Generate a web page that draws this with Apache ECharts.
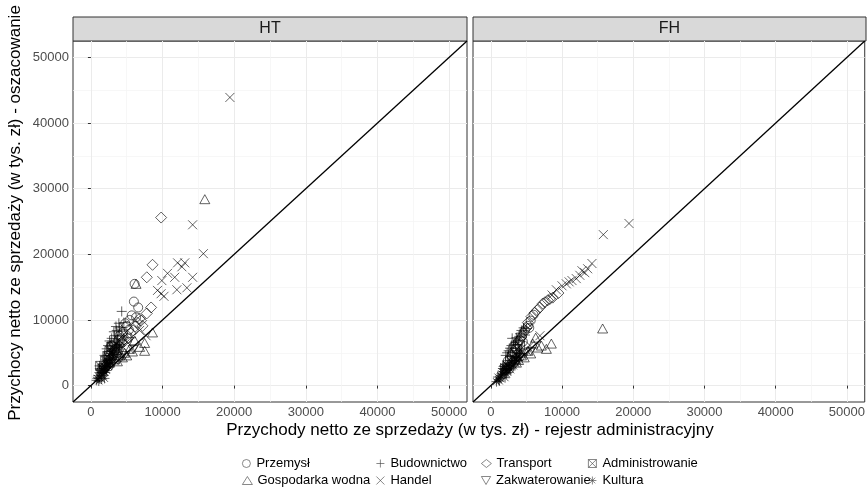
<!DOCTYPE html>
<html lang="pl">
<head>
<meta charset="UTF-8">
<title>HT / FH</title>
<script src="https://cdn.jsdelivr.net/npm/echarts@6/dist/echarts.min.js"></script>
<style>
  html, body { margin: 0; padding: 0; background: #fff; }
  #main { width: 868px; height: 491px; }
</style>
</head>
<body>
<div id="main"></div>
<script>
var panels = ['HT', 'FH'];
var categories = ['Przemysł', 'Gospodarka wodna', 'Budownictwo', 'Handel', 'Transport', 'Zakwaterowanie', 'Administrowanie', 'Kultura'];
var majorTicks = [0, 10000, 20000, 30000, 40000, 50000];
var minorTicks = [5000, 15000, 25000, 35000, 45000];
var axisRange = [-2500, 52500];
var xTitle = 'Przychody netto ze sprzedaży (w tys. zł) - rejestr administracyjny';
var yTitle = 'Przychocy netto ze sprzedaży (w tys. zł) - oszacowanie';

// HT panel, [rejestr, oszacowanie]
var htPrzemysl = [[6100,15500],[6000,12800],[6600,11900],[5700,10700],[5000,9100],[4000,7600],[3800,6900],[2900,6100],[2400,4600],[1800,3000],[3300,5400],[4500,8200],
  [5400,10000],[4800,9500],[4200,7200],[5300,8500],[3600,5200],[2700,4000],[6300,10400]];
var htGospodarka = [[15900,28400],[6300,15500],[8600,8100],[7500,6500],[7500,5300],[6100,6900],[5400,5600],[4700,5000],[4000,4600],[2600,3500],[3300,4000],
  [5800,5200],[6800,5900],[4400,4300],[3700,3700],[5000,4600]];
var htBudownictwo = [[4300,11300],[4000,8800],[4300,8500],[3600,8400],[3300,7600],[2900,7200],[2400,6100],[1900,4600],[1200,3000],[3000,5600],[5600,7300],
  [3900,9500],[3500,9000],[2600,6800],[2800,6500],[3700,7100],[3200,8200],[4600,9600],[2200,5600]];
var htHandel = [[19400,43900],[14200,24500],[15700,20100],[12100,18700],[13100,18700],[12700,18100],[10700,17100],[11700,16500],[9900,16000],[14200,16500],[9300,14500],[10200,13600],[12000,14600],[13400,14900],[9800,14000],[6800,8400],[7700,7600],
  [5200,6500],[4400,5900]];
var htTransport = [[9800,25600],[8600,18400],[7800,16500],[8400,11900],[7800,11000],[6800,10200],[7200,9100],[6500,9600],[5900,8400],[5200,7200],[4000,6100],[3300,4600],
  [5500,8000],[4600,7000],[6200,9000],[4300,6600],[7000,9900]];
var htZakwaterowanie = [[3800,3800],[2900,3000],[2100,2300],[4700,4600],[1300,2000],[5900,5500],[3300,4500],[2500,3300],[4200,4200],[1700,2400]];
var htAdministrowanie = [[2600,5300],[3300,6100],[2000,3800],[4000,6900],[1300,3000],[2300,4500],[3700,5400],[1600,2600],[2900,5900],[4400,7600]];
var htKultura = [[800,800],[1200,1200],[1500,2000],[1800,2600],[2100,3400],[2400,3800],[2600,4600],[2900,5300],[1700,1500],[2200,2300],[2800,3500],[3200,4300],[3500,5000],[1300,2000],[1900,1100],[3800,5800],[2500,2900],[1000,1500],[2000,2800],[3000,4000],[1600,2500],[2300,3100],
  [1100,700],[1400,1800],[1700,2200],[1900,2900],[2200,3600],[2500,4100],[2700,4900],[3100,4800],[3300,5600],[2000,2000],[2600,3200],[1500,1000],[900,1100],[3600,6300],[4000,6000],[2100,3900]];

// FH panel
var fhPrzemysl = [[4800,8400],[5200,9100],[5600,9900],[4100,6900],[3500,5600],[2900,4600],[2400,3800],[6000,10800],[3300,6000],
  [4400,7600],[3800,6400],[5400,8800],[3100,5100],[4500,6700]];
var fhGospodarka = [[15700,8700],[8500,6400],[7800,5600],[6600,5800],[5900,6400],[5200,5300],[4300,4600],[3600,3500],[6300,7300],
  [4700,4300],[5600,4900],[7100,6100],[3900,3900]];
var fhBudownictwo = [[3400,6600],[3600,7300],[4100,7900],[2900,6100],[4300,8400],[4600,8800],[2500,5300],[2100,4600],[5000,8700],[3000,7200],
  [3800,6900],[2700,5700],[3200,6300],[4000,7500],[2300,5000],[4800,7700]];
var fhHandel = [[19400,24700],[15800,23000],[14200,18600],[13600,17800],[13200,17200],[12500,16800],[12000,16300],[11400,16000],[10600,15500],[10000,15200],[9200,14600],[6900,7600],[5500,6100],
  [4200,5500],[8600,13800],[11000,15800],[12800,17500]];
var fhTransport = [[8700,13400],[8000,13000],[7300,12500],[6900,11900],[6200,11100],[5700,10500],[5200,9600],[4600,8100],[9500,14100],
  [4300,7400],[5000,8800],[3900,6800],[6500,11500],[7600,12700],[8300,13200]];
var fhZakwaterowanie = [[2900,2900],[3800,3800],[2100,2000],[4800,5000],[5600,5200],[3400,3200],[4400,4300],[2500,2500]];
var fhAdministrowanie = [[2700,3800],[3400,5000],[2000,2600],[4100,6100],[3000,4400],[3700,5600],[2300,3100]];
var fhKultura = [[800,600],[1300,1100],[1700,1700],[2100,2300],[2500,2900],[2900,3500],[3400,4100],[2000,1200],[2400,2000],[2800,2400],[1400,1500],[3200,3000],[3800,3800],[1800,2900],[1100,900],[2200,2700],[3000,4400],[1600,2100],
  [1000,1300],[1500,1800],[1900,2500],[2300,3100],[2600,3400],[3100,3800],[3600,4600],[4000,5300],[2700,2600],[1200,700],[3500,3400],[2200,1800],[1700,2600],[4200,4800],[3900,4300]];

var panelData = [
  [htPrzemysl, htGospodarka, htBudownictwo, htHandel, htTransport, htZakwaterowanie, htAdministrowanie, htKultura],
  [fhPrzemysl, fhGospodarka, fhBudownictwo, fhHandel, fhTransport, fhZakwaterowanie, fhAdministrowanie, fhKultura]
];

// ggplot shapes 1..8
var symbols = [
  'circle',
  'triangle',
  'path://M5,0L5,10M0,5L10,5',
  'path://M0,0L10,10M10,0L0,10',
  'diamond',
  'path://M0,0L10,0L5,8.66Z',
  'path://M0,0L10,0L10,10L0,10ZM0,0L10,10M10,0L0,10',
  'path://M5,0L5,10M0,5L10,5M1.5,1.5L8.5,8.5M8.5,1.5L1.5,8.5'
];
var sizes = [9, [10, 9], 10, 9, 11, [10, 9], 9, 10];

var font = 'Liberation Sans, Arial, sans-serif';
var grids = [
  {left: 73, top: 41, width: 394, height: 361},
  {left: 473, top: 41, width: 393, height: 361}
];

function plain(v) { return String(v); }

var xAxes = [], yAxes = [], series = [], graphics = [];

grids.forEach(function (g, p) {
  g.show = true;
  g.borderColor = '#333';
  g.borderWidth = 1;
  g.backgroundColor = '#fff';

  // major axes (labels, ticks, major grid)
  xAxes.push({
    type: 'value', gridIndex: p, min: axisRange[0], max: axisRange[1],
    axisLine: {show: false},
    axisTick: {show: true, length: 3, lineStyle: {color: '#333'}, customValues: majorTicks},
    axisLabel: {customValues: majorTicks, formatter: plain, color: '#4d4d4d', fontSize: 13, margin: 4, fontFamily: font},
    splitLine: {show: true, lineStyle: {color: '#ebebeb', width: 1}}
  });
  yAxes.push({
    type: 'value', gridIndex: p, min: axisRange[0], max: axisRange[1],
    axisLine: {show: false},
    axisTick: {show: p === 0, length: 3, lineStyle: {color: '#333'}, customValues: majorTicks},
    axisLabel: {show: p === 0, customValues: majorTicks, formatter: plain, color: '#4d4d4d', fontSize: 13, margin: 4, fontFamily: font},
    splitLine: {show: true, lineStyle: {color: '#ebebeb', width: 1}}
  });
  // minor grid
  xAxes.push({
    type: 'value', gridIndex: p, min: axisRange[0], max: axisRange[1],
    axisLine: {show: false}, axisLabel: {show: false},
    axisTick: {show: false, customValues: minorTicks},
    splitLine: {show: true, lineStyle: {color: '#f3f3f3', width: 0.7}}
  });
  yAxes.push({
    type: 'value', gridIndex: p, min: axisRange[0], max: axisRange[1],
    axisLine: {show: false}, axisLabel: {show: false},
    axisTick: {show: false, customValues: minorTicks},
    splitLine: {show: true, lineStyle: {color: '#f3f3f3', width: 0.7}}
  });

  panelData[p].forEach(function (data, c) {
    series.push({
      type: 'scatter', name: categories[c],
      xAxisIndex: p * 2, yAxisIndex: p * 2,
      symbol: symbols[c], symbolSize: sizes[c], symbolKeepAspect: true,
      itemStyle: {color: 'transparent', borderColor: 'rgba(0,0,0,0.85)', borderWidth: 0.9},
      data: data
    });
  });

  series.push({
    type: 'line', name: 'y=x', xAxisIndex: p * 2, yAxisIndex: p * 2,
    showSymbol: false, silent: true, z: 5,
    lineStyle: {color: '#000', width: 1.3},
    data: [[axisRange[0], axisRange[0]], [axisRange[1], axisRange[1]]]
  });

  // facet strip
  graphics.push({
    type: 'rect', shape: {x: g.left, y: 17, width: g.width, height: 24},
    style: {fill: '#d9d9d9', stroke: '#333', lineWidth: 1}
  });
  graphics.push({
    type: 'text', x: g.left + g.width / 2, y: 29,
    style: {text: panels[p], fill: '#1a1a1a', font: '16px ' + font, textAlign: 'center', textVerticalAlign: 'middle'}
  });
});

graphics.push({
  type: 'text', x: 470, y: 430,
  style: {text: xTitle, fill: '#000', font: '17px ' + font, textAlign: 'center', textVerticalAlign: 'middle'}
});
graphics.push({
  type: 'text', x: 15, y: 213, rotation: Math.PI / 2,
  style: {text: yTitle, fill: '#000', font: '17px ' + font, textAlign: 'center', textVerticalAlign: 'middle'}
});

// legend: 4 columns x 2 rows, like ggplot
var legendLeft = [242, 376, 481, 588];
var legendTop = [457, 474];
var legendOrder = [0, 2, 4, 6, 1, 3, 5, 7];
var legends = legendOrder.map(function (c, i) {
  return {
    data: [{name: categories[c], icon: symbols[c]}],
    left: legendLeft[i % 4], top: legendTop[Math.floor(i / 4)],
    padding: 0, itemWidth: 10, itemHeight: 8, selectedMode: false,
    itemStyle: {color: 'transparent', borderColor: '#444', borderWidth: 0.8},
    textStyle: {fontSize: 13, color: '#000', fontFamily: font}
  };
});

var myChart = echarts.init(document.getElementById('main'));
myChart.setOption({
  animation: false,
  grid: grids,
  xAxis: xAxes,
  yAxis: yAxes,
  legend: legends,
  graphic: graphics,
  series: series
});
</script>
</body>
</html>
